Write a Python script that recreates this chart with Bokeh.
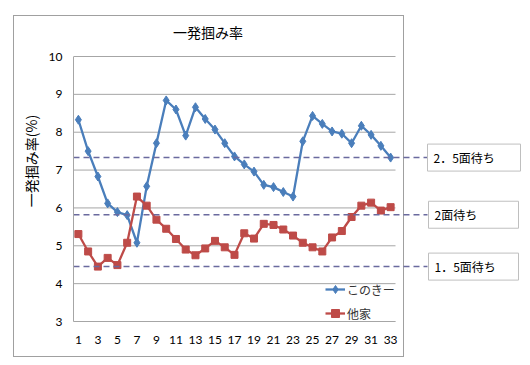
from bokeh.plotting import figure
from bokeh.models import FixedTicker, Legend, LegendItem, Label, Range1d
from bokeh.embed import file_html
from bokeh.resources import INLINE

days = list(range(1, 34))
konokii = [8.33, 7.50, 6.83, 6.12, 5.89, 5.81, 5.08, 6.57, 7.71, 8.84, 8.60, 7.91,
           8.66, 8.35, 8.07, 7.71, 7.36, 7.15, 6.96, 6.61, 6.55, 6.42, 6.30, 7.76,
           8.43, 8.22, 8.02, 7.96, 7.71, 8.17, 7.93, 7.64, 7.33]
taka = [5.31, 4.85, 4.45, 4.68, 4.49, 5.08, 6.30, 6.06, 5.69, 5.45, 5.18, 4.90,
        4.75, 4.93, 5.13, 4.96, 4.76, 5.33, 5.19, 5.58, 5.55, 5.43, 5.27, 5.08,
        4.96, 4.85, 5.22, 5.39, 5.76, 6.06, 6.14, 5.93, 6.02]
series_names = ["このきー", "他家"]
ref_levels = [7.33, 5.82, 4.45]
ref_labels = ["2．5面待ち", "2面待ち", "1．5面待ち"]
x_ticks = list(range(1, 34, 2))
y_ticks = list(range(3, 11))
title_text = "一発掴み率"
y_label = "一発掴み率(%)"

JP = "Noto Sans CJK JP"
NUM = "Lato"
BLUE = "#4A7EBB"
RED = "#BE4B48"
DASH = "#6A6A9E"
GRID = "#A6A6A6"
BORDER = "#A0A0A0"

W, H = 522, 357
FL, FR, FT, FB = 73, 521, 0, 321          # frame edges in pixels
XS = (395 - FL) / 33.0                    # px per category
YS = (321 - 56) / 7.0                     # px per unit


def dx(px):
    return 0.5 + (px - FL) / XS


def dy(py):
    return 3 + (FB - py) / YS


def grad(x, y, w, h):
    return f"linear-gradient({BORDER},{BORDER}) {x}px {y}px / {w}px {h}px no-repeat"


bg = ", ".join([grad(13, 15, 391, 1), grad(13, 356, 391, 1),
                grad(13, 15, 1, 342), grad(403, 15, 1, 342)]) + ", #ffffff"

p = figure(width=W, height=H, x_range=Range1d(0.5, dx(FR)), y_range=Range1d(3, dy(FT)),
           output_backend="svg", toolbar_location=None,
           min_border_left=FL, min_border_right=W - FR, min_border_top=FT, min_border_bottom=H - FB,
           styles={"background": bg})
p.outline_line_color = None
p.background_fill_alpha = 0
p.border_fill_alpha = 0
p.xgrid.visible = False
p.ygrid.visible = False

for ax in (p.xaxis[0], p.yaxis[0]):
    ax.major_tick_line_color = None
    ax.minor_tick_line_color = None
    ax.major_tick_out = 0
    ax.major_tick_in = 0
    ax.minor_tick_out = 0
    ax.axis_line_color = GRID
    ax.axis_line_width = 1
    ax.major_label_text_font = NUM
    ax.major_label_text_font_size = "12px"
    ax.major_label_text_color = "#000000"

p.xaxis.ticker = FixedTicker(ticks=x_ticks)
p.xaxis.bounds = (0.5, 33.5)
p.xaxis.major_label_standoff = 14
p.yaxis.ticker = FixedTicker(ticks=y_ticks)
p.yaxis.bounds = (3, 10)
p.yaxis.major_label_standoff = 11
p.yaxis.axis_label = y_label
p.yaxis.axis_label_text_font = JP
p.yaxis.axis_label_text_font_style = "normal"
p.yaxis.axis_label_text_font_size = "14px"
p.yaxis.axis_label_text_color = "#000000"
p.yaxis.axis_label_standoff = 5

# horizontal gridlines limited to the category span
p.segment(x0=[0.5] * len(y_ticks), x1=[33.5] * len(y_ticks), y0=y_ticks, y1=y_ticks,
          line_color=GRID, line_width=1, level="underlay")

r1 = p.line(days, konokii, line_color=BLUE, line_width=2.3)
s1 = p.scatter(days, konokii, marker="diamond", size=9, fill_color=BLUE, line_color=BLUE)
r2 = p.line(days, taka, line_color=RED, line_width=2.3)
s2 = p.scatter(days, taka, marker="square", size=7, fill_color=RED, line_color=RED)

legend = Legend(items=[LegendItem(label=series_names[0], renderers=[r1, s1]),
                       LegendItem(label=series_names[1], renderers=[r2, s2])],
                location=(252, -2), padding=0, margin=0, spacing=4,
                glyph_width=20, glyph_height=20, label_standoff=2,
                border_line_color=None, background_fill_alpha=0,
                label_text_font=JP, label_text_font_size="12px",
                label_text_color="#333333")
p.add_layout(legend)

# reference dashed lines with their text boxes
n = len(ref_levels)
p.segment(x0=[0.5] * n, x1=[dx(427)] * n, y0=ref_levels, y1=ref_levels,
          line_color=DASH, line_width=1.5, line_dash="6 4")
half = 13.5 / YS
box_l = [dx(427), dx(428), dx(428)]
box_r = [dx(520), dx(518), dx(518)]
p.quad(left=box_l, right=box_r,
       top=[v + half for v in ref_levels], bottom=[v - half for v in ref_levels],
       fill_color="white", line_color="#BFBFBF", line_width=1)
for lvl, lab, bl in zip(ref_levels, ref_labels, box_l):
    p.add_layout(Label(x=bl + 6 / XS, y=lvl, text=lab, text_align="left", text_baseline="middle",
                       text_font=JP, text_font_size="12px", text_color="#000000"))

p.add_layout(Label(x=dx(207.5), y=dy(31), text=title_text,
                   text_align="center", text_baseline="middle",
                   text_font=JP, text_font_size="14px", text_color="#000000"))

open("out.html", "w").write(file_html(p, INLINE))
